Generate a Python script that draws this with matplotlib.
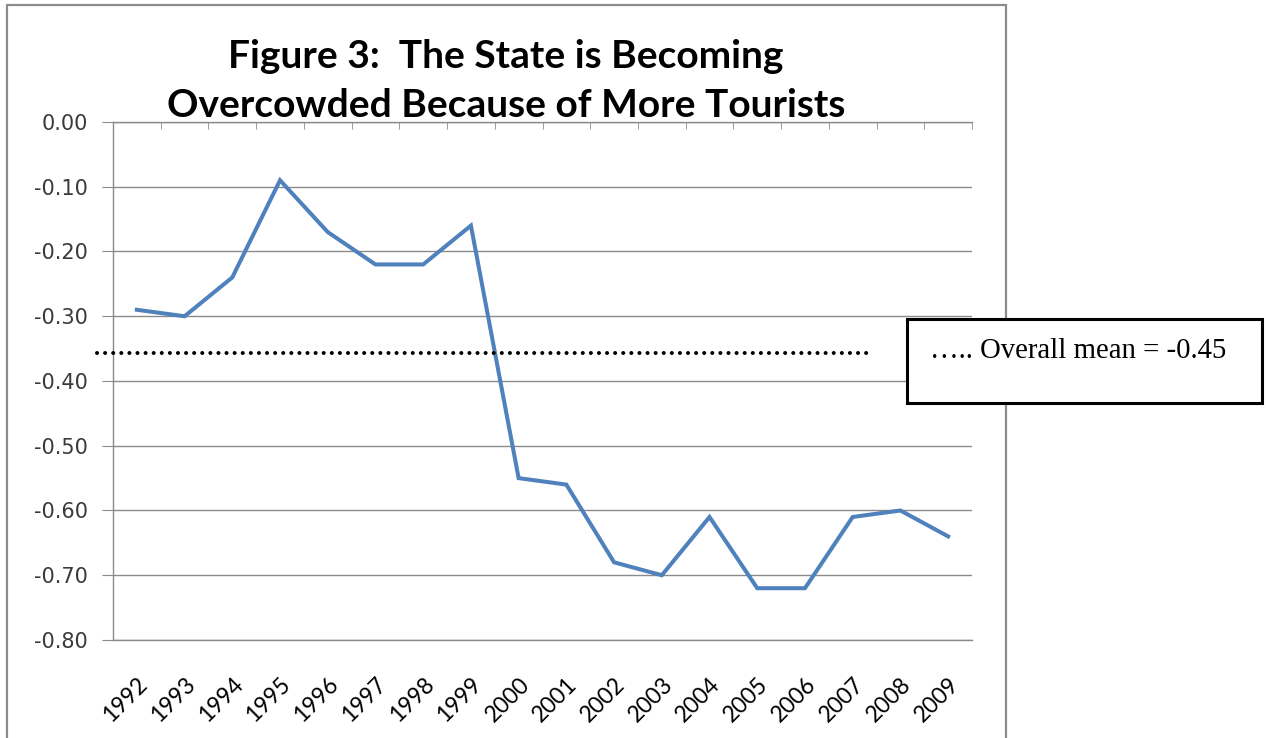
import matplotlib
matplotlib.use("Agg")
import matplotlib.pyplot as plt
from matplotlib.patches import Rectangle
from matplotlib.ticker import FixedLocator

# data
years = ["1992", "1993", "1994", "1995", "1996", "1997", "1998", "1999", "2000",
         "2001", "2002", "2003", "2004", "2005", "2006", "2007", "2008", "2009"]
values = [-0.29, -0.30, -0.24, -0.09, -0.17, -0.22, -0.22, -0.16, -0.55,
          -0.56, -0.68, -0.70, -0.61, -0.72, -0.72, -0.61, -0.60, -0.64]
y_ticks = [0.0, -0.1, -0.2, -0.3, -0.4, -0.5, -0.6, -0.7, -0.8]
mean_line_y = -0.357          # where the dotted line sits in the picture
mean_line_x = (-0.84, 15.37)  # its extent in category units
mean_label = "….. Overall mean = -0.45"
title = "Figure 3:  The State is Becoming\nOvercowded Because of More Tourists"

W, H = 1266, 738
fig = plt.figure(figsize=(W / 100, H / 100), dpi=100)

# outer chart frame
fig.patches.append(Rectangle((7 / W, -0.02), 999 / W, (H - 5) / H + 0.02,
                             transform=fig.transFigure, fill=False,
                             edgecolor="#8c8c8c", linewidth=1.6))

ax = fig.add_axes([113 / W, 98 / H, 859 / W, 518 / H])
x = list(range(len(years)))
ax.plot(x, values, color="#4F81BD", linewidth=2.9, solid_joinstyle="miter", zorder=3)
ax.plot(mean_line_x, [mean_line_y] * 2, color="black", linewidth=2.9,
        linestyle=(0, (0.01, 2.0)), dash_capstyle="round", clip_on=False, zorder=4)

ax.set_xlim(-0.5, len(years) - 0.5)
ax.set_ylim(-0.8, 0.0)
ax.set_yticks(y_ticks)
ax.set_yticklabels([f"{v:.2f}" for v in y_ticks])
ax.yaxis.grid(True, color="#8a8a8a", linewidth=1)
ax.set_axisbelow(True)

ax.spines["right"].set_visible(False)
for s in ["left", "top", "bottom"]:
    ax.spines[s].set_color("#8a8a8a")
    ax.spines[s].set_linewidth(1)

ax.set_xticks(x)
ax.set_xticklabels(years, rotation=45, ha="right", va="top", rotation_mode="anchor",
                   fontfamily="Lato", fontsize=16.5, color="black")
ax.xaxis.set_minor_locator(FixedLocator([i - 0.5 for i in range(len(years) + 1)]))
ax.tick_params(axis="x", which="major", length=0, pad=24)
ax.tick_params(axis="x", which="minor", bottom=False, top=True, direction="in",
               length=5, color="#8a8a8a")
ax.tick_params(axis="y", length=8, color="#8a8a8a", pad=10, labelsize=15,
               labelcolor="#3a3a3a")

fig.text(506 / W, 1 - 81 / H, title, ha="center", va="center", fontfamily="Lato",
         fontweight="bold", fontsize=28, linespacing=1.45)

# annotation box
fig.patches.append(Rectangle((907 / W, (H - 403) / H), 355 / W, 84 / H,
                             transform=fig.transFigure, facecolor="white",
                             edgecolor="black", linewidth=2.2, zorder=5))
fig.text(930 / W, 1 - 351 / H, mean_label, ha="left", va="center",
         fontfamily="Liberation Serif", fontsize=20.7, zorder=6)

fig.savefig("out.png", dpi=100)
